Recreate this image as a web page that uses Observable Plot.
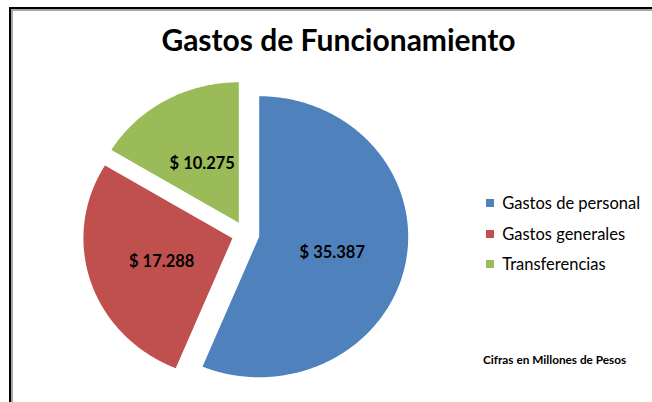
<!DOCTYPE html>
<html>
<head>
<meta charset="utf-8">
<script src="https://cdn.jsdelivr.net/npm/d3@7"></script>
<script src="https://cdn.jsdelivr.net/npm/@observablehq/plot@0.6"></script>
<style>
  html, body { margin: 0; padding: 0; background: #fff; }
  #wrap { position: relative; width: 652px; height: 402px; overflow: hidden; background: #fff; font-family: Lato, "Open Sans", sans-serif; }
  #frame { position: absolute; left: 9px; top: 7px; width: 800px; height: 600px; border-left: 2px solid #000; border-top: 2px solid #000; box-shadow: inset 2px 2px 0 #a6a6a6; }
  #chart { position: absolute; left: 0; top: 0; }
  #title { position: absolute; left: 0; width: 677px; top: 21px; text-align: center; font-weight: bold; font-size: 30px; line-height: 36px; color: #000; }
  #legend { position: absolute; left: 486px; top: 188px; width: 175px; }
  #caption { position: absolute; left: 483px; top: 352px; font-weight: bold; font-size: 11.8px; line-height: 16px; color: #000; white-space: nowrap; }
  .lg-swatch { height: 30.5px !important; padding-bottom: 0 !important; }
</style>
</head>
<body>
<div id="wrap">
  <div id="frame"></div>
  <div id="chart"></div>
  <div id="title"></div>
  <div id="legend"></div>
  <div id="caption"></div>
</div>
<script>
const titleText = "Gastos de Funcionamiento";
const captionText = "Cifras en Millones de Pesos";
const categories = ["Gastos de personal", "Gastos generales", "Transferencias"];
const values = [35387, 17288, 10275];
const colors = ["#4F81BD", "#C0504D", "#9BBB59"];

const fmt = d3.formatLocale({decimal: ",", thousands: ".", grouping: [3], currency: ["$ ", ""]}).format("$,");

// Build pie slices in unit-circle coordinates (start at 12 o'clock, clockwise)
const explode = 0.093;
const total = d3.sum(values);
const slicePts = [];
const labels = [];
let acc = 0;
categories.forEach((name, i) => {
  const a0 = acc / total * 2 * Math.PI;
  acc += values[i];
  const a1 = acc / total * 2 * Math.PI;
  const mid = (a0 + a1) / 2;
  const cx = explode * Math.sin(mid), cy = explode * Math.cos(mid);
  slicePts.push({name, x: cx, y: cy});
  const n = Math.max(2, Math.ceil((a1 - a0) / (Math.PI / 360)));
  for (let k = 0; k <= n; k++) {
    const a = a0 + (a1 - a0) * k / n;
    slicePts.push({name, x: cx + Math.sin(a), y: cy + Math.cos(a)});
  }
  slicePts.push({name, x: cx, y: cy});
  labels.push({name, x: cx + 0.5 * Math.sin(mid), y: cy + 0.5 * Math.cos(mid), text: fmt(values[i])});
});

const W = 652, H = 402;
const cxPx = 245.1, cyPx = 233.7, rx = 149, ry = 140.5;

const chart = Plot.plot({
  width: W,
  height: H,
  margin: 0,
  style: {background: "transparent", overflow: "visible"},
  x: {domain: [-cxPx / rx, (W - cxPx) / rx], axis: null},
  y: {domain: [(cyPx - H) / ry, cyPx / ry], axis: null},
  color: {domain: categories, range: colors},
  marks: [
    Plot.line(slicePts, {x: "x", y: "y", z: "name", fill: "name", stroke: "none", curve: "linear"}),
    Plot.text(labels, {x: "x", y: "y", dy: 2, text: "text", fill: "#000", fontWeight: "bold", fontSize: 16.5, fontFamily: "Lato, sans-serif"})
  ]
});
document.getElementById("chart").appendChild(chart);

document.getElementById("title").textContent = titleText;
document.getElementById("caption").textContent = captionText;

const legend = Plot.legend({
  color: {domain: categories, range: colors},
  legend: "swatches",
  columns: 1,
  swatchSize: 8,
  className: "lg",
  style: {fontSize: "16.5px", fontFamily: "Lato, sans-serif", color: "#000", margin: "0"}
});
document.getElementById("legend").appendChild(legend);
</script>
</body>
</html>
